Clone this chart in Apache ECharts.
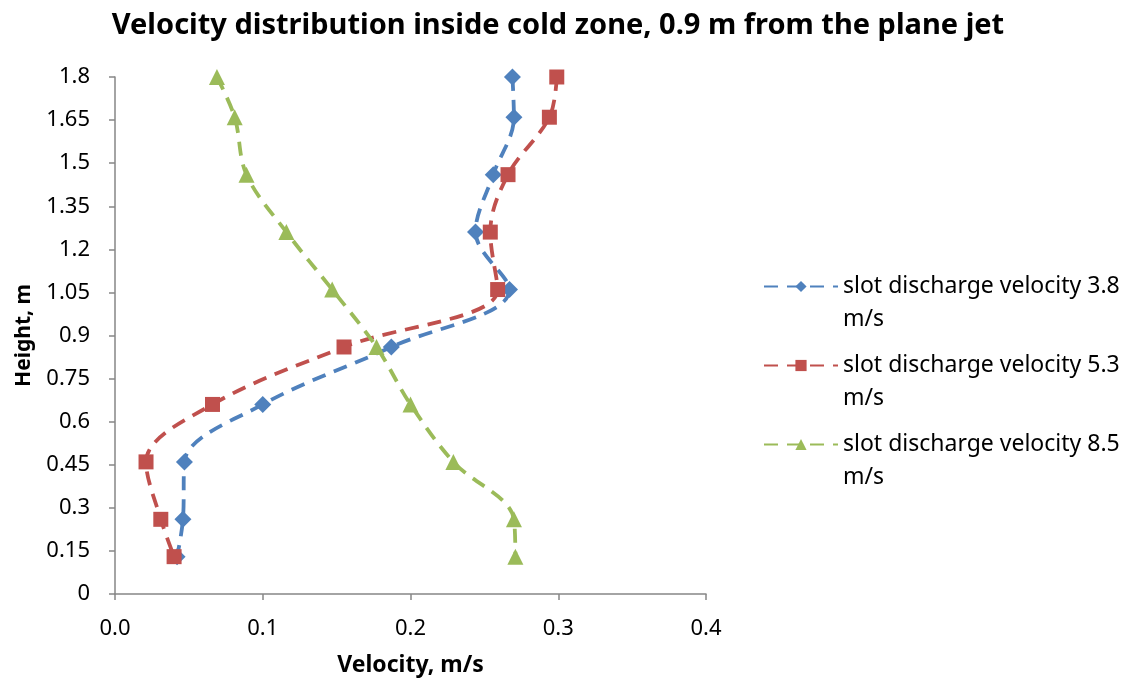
<!DOCTYPE html>
<html>
<head>
<meta charset="utf-8">
<script src="https://cdn.jsdelivr.net/npm/echarts@6/dist/echarts.min.js"></script>
<style>
  html, body { margin: 0; padding: 0; background: #fff; }
  #chart { width: 1127px; height: 684px; }
</style>
</head>
<body>
<div id="chart"></div>
<script>
// heights where velocity was measured (m)
const heights = [1.8, 1.66, 1.46, 1.26, 1.06, 0.86, 0.66, 0.46, 0.26, 0.13];
// velocity (m/s) per slot discharge velocity
const vel38 = [0.269, 0.270, 0.256, 0.244, 0.267, 0.187, 0.100, 0.047, 0.046, 0.042];
const vel53 = [0.299, 0.294, 0.266, 0.254, 0.259, 0.155, 0.066, 0.021, 0.031, 0.040];
const vel85 = [0.069, 0.081, 0.089, 0.116, 0.147, 0.177, 0.200, 0.229, 0.270, 0.271];
const seriesNames = [
  'slot discharge velocity 3.8 m/s',
  'slot discharge velocity 5.3 m/s',
  'slot discharge velocity 8.5 m/s'
];
const yTicks = ['0', '0.15', '0.3', '0.45', '0.6', '0.75', '0.9', '1.05', '1.2', '1.35', '1.5', '1.65', '1.8'];

const font = 'Noto Sans';
const axisGray = '#868686';

const pairs = (xs) => xs.map((v, i) => [v, heights[i]]);

const mkSeries = (name, vals, color, symbol, size) => ({
  name: name,
  type: 'line',
  data: pairs(vals),
  smooth: 0.35,
  symbol: symbol,
  symbolSize: size,
  itemStyle: { color: color },
  lineStyle: { color: color, width: 3.8, type: [14, 9] },
  z: 3
});

const chart = echarts.init(document.getElementById('chart'));
chart.setOption({
  animation: false,
  backgroundColor: '#fff',
  title: {
    text: 'Velocity distribution inside cold zone, 0.9 m from the plane jet',
    left: 553,
    textAlign: 'center',
    top: 6,
    textStyle: { fontFamily: font, fontSize: 29, fontWeight: 'bold', color: '#000' }
  },
  legend: {
    orient: 'vertical',
    left: 758,
    top: 232,
    itemWidth: 74,
    itemHeight: 14,
    itemGap: -20,
    data: seriesNames,
    // blank first line keeps the icon level with the first text line
    formatter: (n) => '\n' + n.replace(' m/s', '\nm/s'),
    textStyle: {
      fontFamily: font,
      fontSize: 23,
      color: '#000',
      lineHeight: 33
    }
  },
  grid: { left: 115, right: 421, top: 77, bottom: 90 },
  xAxis: {
    type: 'value',
    min: 0,
    max: 0.4,
    interval: 0.1,
    name: 'Velocity, m/s',
    nameLocation: 'middle',
    nameGap: 60,
    nameTextStyle: { fontFamily: font, fontSize: 23, fontWeight: 'bold', color: '#000' },
    axisLine: { show: true, lineStyle: { color: axisGray, width: 1.5 } },
    axisTick: { show: true, length: 6, lineStyle: { color: axisGray, width: 1.5 } },
    axisLabel: {
      fontFamily: font, fontSize: 22, color: '#000', margin: 24,
      formatter: (v) => v.toFixed(1)
    },
    splitLine: { show: false }
  },
  yAxis: {
    type: 'value',
    min: 0,
    max: 1.8,
    interval: 0.15,
    name: 'Height, m',
    nameLocation: 'middle',
    nameGap: 80,
    nameTextStyle: { fontFamily: font, fontSize: 21, fontWeight: 'bold', color: '#000' },
    axisLine: { show: true, lineStyle: { color: axisGray, width: 1.5 } },
    axisTick: { show: true, length: 6, lineStyle: { color: axisGray, width: 1.5 } },
    axisLabel: {
      fontFamily: font, fontSize: 22, color: '#000', margin: 25,
      formatter: (v) => yTicks[Math.round(v / 0.15)]
    },
    splitLine: { show: false }
  },
  series: [
    mkSeries(seriesNames[0], vel38, '#4F81BD', 'diamond', 17),
    mkSeries(seriesNames[1], vel53, '#C0504D', 'rect', 15),
    mkSeries(seriesNames[2], vel85, '#9BBB59', 'triangle', 16)
  ]
});
window.addEventListener('resize', function () {
  chart && chart.resize();
});
</script>
</body>
</html>
